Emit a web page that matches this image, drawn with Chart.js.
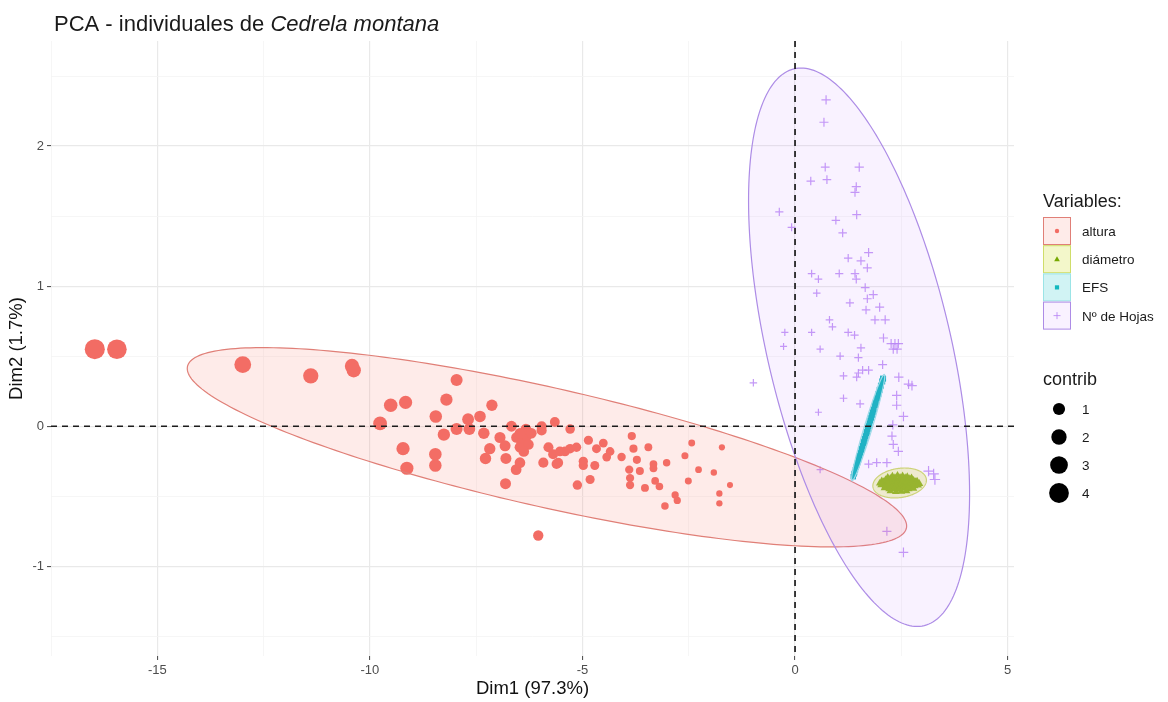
<!DOCTYPE html>
<html>
<head>
<meta charset="utf-8">
<title>PCA - individuales de Cedrela montana</title>
<script src="https://cdn.jsdelivr.net/npm/chart.js@4.4.1/dist/chart.umd.min.js"></script>
<style>
  html, body { margin: 0; padding: 0; background: #ffffff; }
  #wrap { width: 1168px; height: 702px; position: relative; }
</style>
</head>
<body>
<div id="wrap"><canvas id="pca" width="1168" height="702"></canvas></div>
<script>
// ---- axis ticks (major ticks carry labels, the others are minor grid lines) ----
const xTickValues = [-17.5, -15, -12.5, -10, -7.5, -5, -2.5, 0, 2.5, 5];
const yTickValues = [-1.5, -1, -0.5, 0, 0.5, 1, 1.5, 2, 2.5];
const xMajor = [-15, -10, -5, 0, 5];
const yMajor = [-1, 0, 1, 2];

// ---- individuals: coordinates on Dim1 / Dim2 ----
const alturaX = [-16.47,-15.95,-12.99,-11.39,-10.42,-10.38,-9.76,-9.51,-9.16,-9.22,
  -9.13,-7.96,-8.20,-8.45,-8.26,-8.46,-8.46,-7.13,-7.96,-7.69,
  -7.41,-7.66,-7.32,-6.94,-7.18,-7.28,-6.80,-6.81,-6.67,-6.55,
  -6.43,-6.31,-6.47,-6.27,-6.56,-6.47,-6.33,-5.96,-5.96,-5.65,
  -5.92,-5.69,-5.57,-6.82,-5.29,-5.61,-5.80,-5.53,-5.29,-5.14,
  -5.12,-4.82,-4.86,-4.67,-4.51,-4.35,-4.98,-4.71,-4.08,-3.84,
  -3.80,-3.72,-3.90,-3.88,-3.88,-3.45,-3.33,-3.33,-3.53,-3.29,
  -3.19,-3.65,-3.02,-3.06,-2.82,-2.77,-2.59,-2.43,-2.27,-2.51,
  -1.91,-1.72,-1.78,-1.78,-1.53,-6.04,-4.98,-4.43,-5.41,-6.47,
  -6.38,-6.20];
const alturaY = [0.55,0.55,0.44,0.36,0.43,0.40,0.02,0.15,0.17,-0.16,
  -0.30,0.33,0.19,0.07,-0.06,-0.20,-0.28,0.15,-0.02,0.05,
  0.07,-0.02,-0.05,-0.08,-0.16,-0.23,-0.23,-0.41,0.00,-0.08,
  -0.12,-0.07,-0.15,-0.13,-0.31,-0.26,-0.02,0.00,-0.03,0.03,
  -0.26,-0.20,-0.26,-0.14,-0.02,-0.27,-0.15,-0.18,-0.16,-0.15,
  -0.42,-0.38,-0.10,-0.16,-0.12,-0.18,-0.28,-0.28,-0.22,-0.07,
  -0.16,-0.24,-0.31,-0.37,-0.42,-0.15,-0.27,-0.30,-0.44,-0.39,
  -0.43,-0.32,-0.26,-0.57,-0.49,-0.53,-0.21,-0.12,-0.31,-0.39,
  -0.33,-0.15,-0.48,-0.55,-0.42,-0.78,-0.25,-0.22,-0.18,-0.05,
  -0.18,-0.05];

const diametroX = [2.18,2.29,2.41,2.53,2.64,2.74,
  2.24,2.35,2.47,2.59,2.70,
  2.04,2.13,2.23,2.34,2.46,2.57,2.68,2.79,2.87,
  2.08,2.18,2.29,2.40,2.51,2.62,2.73,2.83,
  1.99,2.09,2.20,2.31,2.42,2.52,2.63,2.74,2.84,2.92,
  2.05,2.16,2.27,2.38,2.49,2.60,2.71,2.82,
  2.02,2.12,2.24,2.36,2.47,2.58,2.70,2.81,2.89,
  2.15,2.27,2.39,2.51,2.63,2.75,
  2.10,2.21,2.33,2.45,2.56,2.67,2.78,
  2.24,2.37,2.50,2.62];
const diametroY = [-0.365,-0.357,-0.352,-0.356,-0.362,-0.371,
  -0.372,-0.368,-0.366,-0.369,-0.376,
  -0.389,-0.381,-0.384,-0.377,-0.383,-0.379,-0.386,-0.388,-0.394,
  -0.395,-0.393,-0.392,-0.396,-0.391,-0.394,-0.397,-0.398,
  -0.407,-0.402,-0.410,-0.401,-0.406,-0.399,-0.404,-0.409,-0.403,-0.410,
  -0.416,-0.414,-0.417,-0.413,-0.415,-0.418,-0.414,-0.416,
  -0.421,-0.428,-0.424,-0.430,-0.423,-0.427,-0.431,-0.425,-0.420,
  -0.436,-0.437,-0.435,-0.438,-0.436,-0.434,
  -0.442,-0.449,-0.446,-0.451,-0.444,-0.448,-0.443,
  -0.463,-0.468,-0.465,-0.461];

const efsX = [1.37,1.39,1.40,1.42,1.44,1.45,1.47,1.49,1.50,1.52,1.54,1.56,1.57,1.59,1.61,1.62,1.64,1.66,
  1.68,1.69,1.71,1.73,1.75,1.77,1.79,1.81,1.83,1.85,1.88,1.90,1.93,1.96,1.99,2.02,2.05,2.07];
const efsY = [-0.36,-0.34,-0.33,-0.31,-0.29,-0.28,-0.26,-0.24,-0.22,-0.21,-0.19,-0.17,-0.16,-0.14,-0.12,-0.11,-0.09,-0.07,
  -0.05,-0.04,-0.02,0.00,0.02,0.04,0.06,0.08,0.10,0.12,0.15,0.17,0.20,0.23,0.26,0.29,0.32,0.34];

const hojasX = [0.73,0.68,0.71,1.51,0.37,0.75,1.44,1.41,-0.37,0.96,
  1.45,-0.08,1.12,1.73,1.25,1.55,1.70,0.39,0.55,1.04,
  1.41,1.44,0.51,1.65,1.84,1.70,1.29,1.99,1.67,0.81,
  0.88,1.88,2.12,-0.24,0.39,1.25,1.40,2.08,2.26,2.35,
  2.43,2.31,2.40,-0.27,0.59,1.55,1.49,1.06,2.06,1.14,
  1.49,1.59,1.73,1.45,2.44,2.67,2.75,1.14,1.53,2.39,
  2.39,2.55,0.55,2.30,2.28,2.31,2.43,1.73,1.92,2.16,
  3.14,3.26,0.59,3.29,-0.98,2.16,2.55];
const hojasY = [2.33,2.17,1.85,1.85,1.75,1.76,1.71,1.67,1.53,1.47,
  1.51,1.42,1.38,1.24,1.20,1.18,1.13,1.09,1.05,1.09,
  1.09,1.05,0.95,0.99,0.94,0.91,0.88,0.85,0.83,0.76,
  0.71,0.76,0.76,0.67,0.67,0.67,0.65,0.63,0.59,0.59,
  0.59,0.55,0.55,0.57,0.55,0.56,0.49,0.50,0.44,0.36,
  0.38,0.40,0.40,0.35,0.35,0.30,0.29,0.20,0.16,0.22,
  0.15,0.07,0.10,0.01,-0.07,-0.13,-0.18,-0.27,-0.26,-0.26,
  -0.32,-0.34,-0.31,-0.38,0.31,-0.75,-0.90];

// ---- concentration ellipses: [centre x, centre y, axis-1 x, axis-1 y, axis-2 x, axis-2 y] ----
const alturaEllipse   = [-5.835, -0.15, 8.46, -0.562, 0.0, 0.436];
const diametroEllipse = [2.46, -0.405, 0.63, 0.02, 0.0, 0.105];
const efsEllipse      = [1.72, -0.01, 0.38, 0.38, 0.09, -0.008];
const hojasEllipse    = [1.506, 0.564, -1.365, 1.993, 2.212, 0.0];

// ---- legends ----
const groupNames = ['altura', 'diámetro', 'EFS', 'Nº de Hojas'];
const contribLevels = [1, 2, 3, 4];

// contribution of an individual (squared distance to the origin, scaled)
const contribOf = (x, y) => (x * x + y * y) / 65;
const radiusForContrib = c => 2.3 + 0.47 * Math.sqrt(65 * c);

const palette = {
  altura:   { point: '#F26C64', fill: 'rgba(248,118,109,0.15)', line: '#E07F77' },
  diametro: { point: '#76A800', fill: 'rgba(215,230,80,0.30)', line: '#CFDD6A' },
  efs:      { point: '#12B8BE', fill: 'rgba(0,191,196,0.18)',  line: '#9BE4E6' },
  hojas:    { point: 'rgba(185,135,245,0.85)', fill: 'rgba(199,124,255,0.10)', line: '#AD8CE6' }
};

const toPoints = (xs, ys) => xs.map((x, i) => ({ x: x, y: ys[i] }));
const pointRadius = scale => ctx => {
  const p = ctx.raw;
  return p ? scale * radiusForContrib(contribOf(p.x, p.y)) : 3;
};

const FONT = '"Liberation Sans", Arial, Helvetica, sans-serif';

const ellipseSpecs = [
  { e: alturaEllipse,   c: palette.altura },
  { e: diametroEllipse, c: palette.diametro },
  { e: efsEllipse,      c: palette.efs },
  { e: hojasEllipse,    c: palette.hojas }
];

// ellipses and the dashed origin lines, drawn above the points
const overlayPlugin = {
  id: 'pcaOverlay',
  afterDatasetsDraw(chart) {
    const { ctx, chartArea: a, scales } = chart;
    const sx = scales.x, sy = scales.y;
    ctx.save();
    ctx.beginPath();
    ctx.rect(a.left, a.top, a.right - a.left, a.bottom - a.top);
    ctx.clip();
    ellipseSpecs.forEach(spec => {
      const [cx, cy, ax, ay, bx, by] = spec.e;
      ctx.beginPath();
      const n = 240;
      for (let k = 0; k <= n; k++) {
        const t = (k / n) * Math.PI * 2;
        const vx = cx + ax * Math.cos(t) + bx * Math.sin(t);
        const vy = cy + ay * Math.cos(t) + by * Math.sin(t);
        const px = sx.getPixelForValue(vx), py = sy.getPixelForValue(vy);
        if (k === 0) ctx.moveTo(px, py); else ctx.lineTo(px, py);
      }
      ctx.closePath();
      ctx.fillStyle = spec.c.fill;
      ctx.fill();
      ctx.lineWidth = 1.2;
      ctx.strokeStyle = spec.c.line;
      ctx.stroke();
    });
    const x0 = sx.getPixelForValue(0), y0 = sy.getPixelForValue(0);
    ctx.setLineDash([6, 5]);
    ctx.lineWidth = 1.7;
    ctx.strokeStyle = '#1c1c1c';
    ctx.beginPath();
    ctx.moveTo(x0, a.top); ctx.lineTo(x0, a.bottom);
    ctx.moveTo(a.left, y0); ctx.lineTo(a.right, y0);
    ctx.stroke();
    ctx.restore();
  }
};

function drawGlyph(ctx, kind, x, y, r, color) {
  ctx.fillStyle = color; ctx.strokeStyle = color;
  ctx.beginPath();
  if (kind === 'circle') {
    ctx.arc(x, y, r, 0, Math.PI * 2); ctx.fill();
  } else if (kind === 'triangle') {
    ctx.moveTo(x, y - r); ctx.lineTo(x + r * 0.95, y + r * 0.7); ctx.lineTo(x - r * 0.95, y + r * 0.7);
    ctx.closePath(); ctx.fill();
  } else if (kind === 'rect') {
    ctx.rect(x - r * 0.75, y - r * 0.75, r * 1.5, r * 1.5); ctx.fill();
  } else {
    ctx.lineWidth = 1;
    ctx.moveTo(x - r, y); ctx.lineTo(x + r, y);
    ctx.moveTo(x, y - r); ctx.lineTo(x, y + r); ctx.stroke();
  }
}

// title and the two legends on the right
const decorPlugin = {
  id: 'pcaDecor',
  afterDraw(chart) {
    const ctx = chart.ctx;
    ctx.save();
    ctx.textBaseline = 'alphabetic';
    ctx.textAlign = 'left';
    ctx.fillStyle = '#1a1a1a';
    const lead = 'PCA - individuales de ';
    ctx.font = '22px ' + FONT;
    ctx.fillText(lead, 54, 31);
    const w = ctx.measureText(lead).width;
    ctx.font = 'italic 22px ' + FONT;
    ctx.fillText('Cedrela montana', 54 + w, 31);

    const lx = 1043;
    ctx.font = '18px ' + FONT;
    ctx.fillStyle = '#1a1a1a';
    ctx.fillText('Variables:', lx, 207);
    const keys = [
      { c: palette.altura, g: 'circle', s: 2.2 },
      { c: palette.diametro, g: 'triangle', s: 3 },
      { c: palette.efs, g: 'rect', s: 2.8 },
      { c: palette.hojas, g: 'cross', s: 3.5 }
    ];
    keys.forEach((k, i) => {
      const top = 217 + i * 28.2;
      ctx.fillStyle = '#ffffff';
      ctx.fillRect(lx, top, 28, 28);
      ctx.fillStyle = k.c.fill;
      ctx.fillRect(lx, top, 28, 28);
      ctx.lineWidth = 1;
      ctx.strokeStyle = k.c.line;
      ctx.strokeRect(lx + 0.5, top + 0.5, 27, 27);
      drawGlyph(ctx, k.g, lx + 14, top + 14, k.s, k.c.point);
      ctx.font = '13.5px ' + FONT;
      ctx.fillStyle = '#1a1a1a';
      ctx.fillText(groupNames[i], 1082, top + 19);
    });

    ctx.font = '18px ' + FONT;
    ctx.fillText('contrib', lx, 385);
    contribLevels.forEach((c, i) => {
      const cy = 409 + i * 28;
      ctx.beginPath();
      ctx.fillStyle = '#000000';
      ctx.arc(1059, cy, radiusForContrib(c), 0, Math.PI * 2);
      ctx.fill();
      ctx.font = '13.5px ' + FONT;
      ctx.fillStyle = '#1a1a1a';
      ctx.fillText(String(c), 1082, cy + 5);
    });
    ctx.restore();
  }
};

const majorGrid = (majors) => ({
  color: c => (majors.includes(c.tick.value) ? '#E9E9E9' : '#F4F4F4'),
  lineWidth: c => (majors.includes(c.tick.value) ? 1.2 : 0.8),
  tickColor: c => (majors.includes(c.tick.value) ? '#444444' : 'rgba(0,0,0,0)'),
  tickWidth: 1,
  tickLength: 4,
  drawTicks: true
});

new Chart(document.getElementById('pca'), {
  type: 'scatter',
  data: {
    datasets: [
      { label: groupNames[0], data: toPoints(alturaX, alturaY), pointStyle: 'circle',
        backgroundColor: palette.altura.point, borderColor: palette.altura.point, borderWidth: 0,
        pointRadius: pointRadius(1) },
      { label: groupNames[1], data: toPoints(diametroX, diametroY), pointStyle: 'triangle',
        backgroundColor: palette.diametro.point, borderColor: palette.diametro.point, borderWidth: 0,
        pointRadius: pointRadius(1.3) },
      { label: groupNames[2], data: toPoints(efsX, efsY), pointStyle: 'rect',
        backgroundColor: palette.efs.point, borderColor: palette.efs.point, borderWidth: 0,
        pointRadius: pointRadius(1.3) },
      { label: groupNames[3], data: toPoints(hojasX, hojasY), pointStyle: 'cross',
        backgroundColor: palette.hojas.point, borderColor: palette.hojas.point, borderWidth: 1.2,
        pointRadius: pointRadius(1.35) }
    ]
  },
  options: {
    responsive: false,
    animation: false,
    devicePixelRatio: 1,
    layout: { padding: { left: 0, top: 41, right: 154, bottom: 0 } },
    plugins: { legend: { display: false }, tooltip: { enabled: false }, title: { display: false } },
    scales: {
      x: {
        type: 'linear', min: -17.5, max: 5.15,
        afterBuildTicks: s => { s.ticks = xTickValues.map(v => ({ value: v })); },
        afterFit: s => { s.height = 46; },
        grid: majorGrid(xMajor),
        border: { display: false },
        ticks: {
          padding: 3, color: '#4D4D4D', font: { family: FONT, size: 13 },
          maxRotation: 0, autoSkip: false,
          callback: v => (xMajor.includes(v) ? String(v) : '')
        },
        title: { display: true, text: 'Dim1 (97.3%)', color: '#111111',
          font: { family: FONT, size: 18.5 }, padding: { top: 0, bottom: 2 } }
      },
      y: {
        type: 'linear', min: -1.64, max: 2.75,
        afterBuildTicks: s => { s.ticks = yTickValues.map(v => ({ value: v })); },
        afterFit: s => { s.width = 51; },
        grid: majorGrid(yMajor),
        border: { display: false },
        ticks: {
          padding: 3, color: '#4D4D4D', font: { family: FONT, size: 13 },
          autoSkip: false,
          callback: v => (yMajor.includes(v) ? String(v) : '')
        },
        title: { display: true, text: 'Dim2 (1.7%)', color: '#111111',
          font: { family: FONT, size: 18.5 }, padding: { top: 6, bottom: 0 } }
      }
    }
  },
  plugins: [overlayPlugin, decorPlugin]
});
</script>
</body>
</html>
